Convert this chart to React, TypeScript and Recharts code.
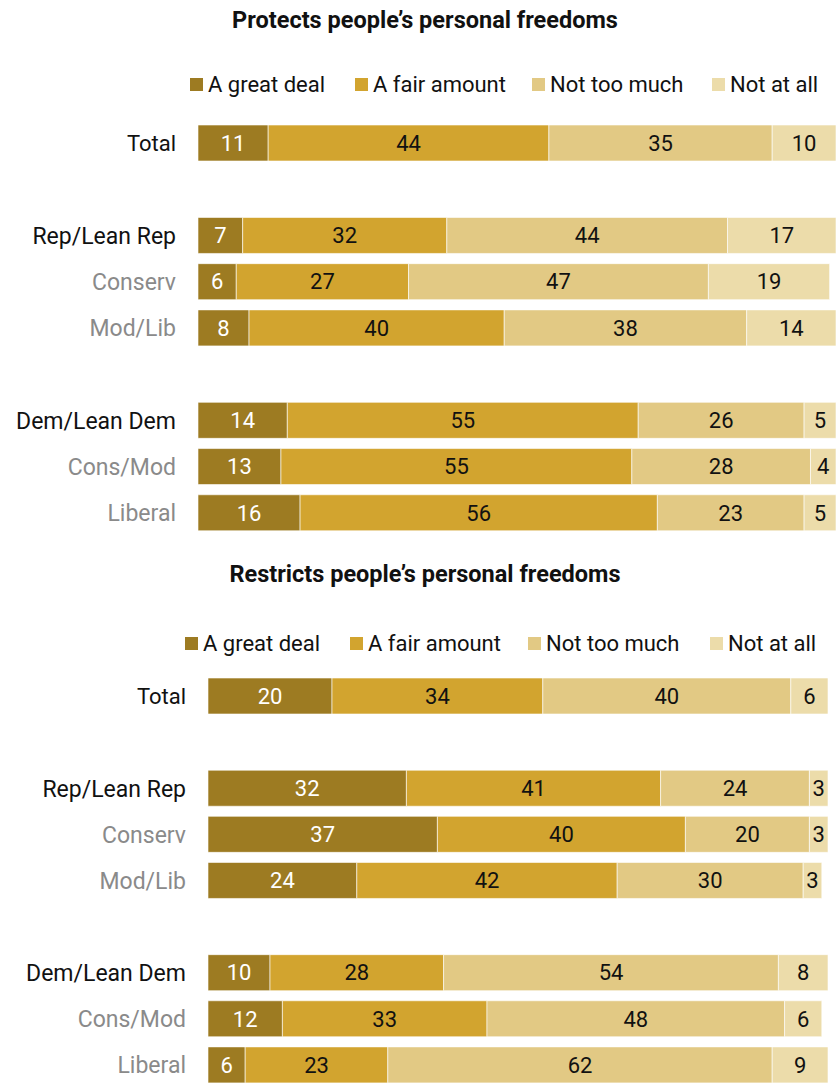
import React from 'react'
import { BarChart, Bar, XAxis, YAxis, LabelList } from 'recharts'

// rows, with blank spacer rows between the groups
const groups = ['Total', 'gap1', 'Rep/Lean Rep', 'Conserv', 'Mod/Lib', 'gap2', 'Dem/Lean Dem', 'Cons/Mod', 'Liberal']
const subGroups = ['Conserv', 'Mod/Lib', 'Cons/Mod', 'Liberal']

const seriesNames = ['A great deal', 'A fair amount', 'Not too much', 'Not at all']
const seriesColors = ['#9d7b22', '#d2a42f', '#e2c984', '#ecdcaa']
const labelColors = ['#ffffff', '#111111', '#111111', '#111111']

// Protects people's personal freedoms
const protectsGreat = [11, null, 7, 6, 8, null, 14, 13, 16]
const protectsFair = [44, null, 32, 27, 40, null, 55, 55, 56]
const protectsNotMuch = [35, null, 44, 47, 38, null, 26, 28, 23]
const protectsNotAtAll = [10, null, 17, 19, 14, null, 5, 4, 5]

// Restricts people's personal freedoms
const restrictsGreat = [20, null, 32, 37, 24, null, 10, 12, 6]
const restrictsFair = [34, null, 41, 40, 42, null, 28, 33, 23]
const restrictsNotMuch = [40, null, 24, 20, 30, null, 54, 48, 62]
const restrictsNotAtAll = [6, null, 3, 3, 3, null, 8, 6, 9]

const keys = ['great', 'fair', 'notMuch', 'notAtAll']

const buildRows = (cols: (number | null)[][]) =>
  groups.map((name, i) => ({
    name,
    great: cols[0][i],
    fair: cols[1][i],
    notMuch: cols[2][i],
    notAtAll: cols[3][i],
  }))

const NARROW = '"Liberation Sans Narrow", "Roboto", sans-serif'
const SANS = 'Roboto, "Noto Sans", sans-serif'

const CategoryTick = ({ x, y, payload }: any) => {
  const name = payload.value as string
  if (name.startsWith('gap')) return null
  const isSub = subGroups.includes(name)
  const isTotal = name === 'Total'
  return (
    <text
      x={x}
      y={y}
      dy="0.36em"
      textAnchor="end"
      fontSize={isTotal ? 22 : 23}
      fontFamily={isTotal ? NARROW : SANS}
      fill={isSub ? '#8a8a8a' : '#111111'}
    >
      {name}
    </text>
  )
}

interface PanelProps {
  title: string
  rows: any[]
  top: number
  height: number
  axisWidth: number
  rightMargin: number
  plotTop: number
  plotBottom: number
  legendX: number[]
  legendY: number
}

function Panel({ title, rows, top, height, axisWidth, rightMargin, plotTop, plotBottom, legendX, legendY }: PanelProps) {
  return (
    <div style={{ position: 'absolute', left: 0, top, width: 837, height }}>
      <div
        style={{
          position: 'absolute',
          left: 0,
          top: 6,
          width: 850,
          textAlign: 'center',
          fontFamily: NARROW,
          fontWeight: 700,
          fontSize: 23.5,
          lineHeight: '28px',
          color: '#111',
        }}
      >
        {title}
      </div>

      {/* legend */}
      {seriesNames.map((s, i) => (
        <div
          key={s}
          style={{
            position: 'absolute',
            left: legendX[i],
            top: legendY - 14,
            height: 28,
            display: 'flex',
            alignItems: 'center',
            fontFamily: NARROW,
            fontSize: 22,
            color: '#111',
            whiteSpace: 'nowrap',
          }}
        >
          <span style={{ width: 13, height: 13, background: seriesColors[i], marginRight: 5, display: 'inline-block' }} />
          {s}
        </div>
      ))}

      <BarChart
        width={837}
        height={height}
        data={rows}
        layout="vertical"
        margin={{ top: plotTop, right: rightMargin, bottom: height - plotBottom, left: 0 }}
        barSize={36}
      >
        <XAxis type="number" domain={[0, 100]} hide />
        <YAxis
          type="category"
          dataKey="name"
          width={axisWidth}
          axisLine={false}
          tickLine={false}
          tickSize={0}
          tickMargin={22}
          interval={0}
          tick={<CategoryTick />}
        />
        {keys.map((k, i) => (
          <Bar key={k} dataKey={k} stackId="a" fill={seriesColors[i]} stroke="#ffffff" strokeWidth={0.6} isAnimationActive={false}>
            <LabelList
              dataKey={k}
              position="center"
              fill={labelColors[i]}
              fontSize={22}
              fontFamily={SANS}
              formatter={(v: any) => (v == null ? '' : v)}
            />
          </Bar>
        ))}
      </BarChart>
    </div>
  )
}

export default function App() {
  const protectsRows = buildRows([protectsGreat, protectsFair, protectsNotMuch, protectsNotAtAll])
  const restrictsRows = buildRows([restrictsGreat, restrictsFair, restrictsNotMuch, restrictsNotAtAll])

  return (
    <div style={{ position: 'absolute', left: 0, top: 0, width: 837, height: 1083, overflow: 'hidden', background: '#fff' }}>
      <Panel
        title="Protects people’s personal freedoms"
        rows={protectsRows}
        top={0}
        height={560}
        axisWidth={198}
        rightMargin={1}
        plotTop={120}
        plotBottom={536}
        legendX={[190, 355, 532, 712]}
        legendY={84}
      />
      <Panel
        title="Restricts people’s personal freedoms"
        rows={restrictsRows}
        top={554}
        height={540}
        axisWidth={208}
        rightMargin={9}
        plotTop={119}
        plotBottom={534}
        legendX={[185, 350, 528, 710]}
        legendY={89}
      />
    </div>
  )
}
